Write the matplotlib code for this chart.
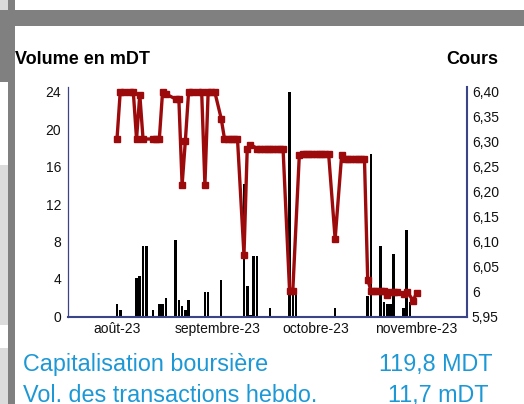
import matplotlib
matplotlib.use('Agg')
import matplotlib.pyplot as plt
import matplotlib.dates as mdates
from matplotlib.patches import Rectangle
from datetime import datetime

plt.rcParams['font.family'] = ['Liberation Sans', 'DejaVu Sans']

# daily volume (mDT)
vol_dates = ["2023-08-01", "2023-08-02", "2023-08-07", "2023-08-08", "2023-08-09", "2023-08-10",
             "2023-08-12", "2023-08-14", "2023-08-15", "2023-08-16", "2023-08-19", "2023-08-20",
             "2023-08-21", "2023-08-22", "2023-08-23", "2023-08-28", "2023-08-29", "2023-09-02",
             "2023-09-09", "2023-09-10", "2023-09-11", "2023-09-12", "2023-09-13", "2023-09-17",
             "2023-09-23", "2023-09-24", "2023-09-25", "2023-10-07", "2023-10-17", "2023-10-18",
             "2023-10-21", "2023-10-22", "2023-10-23", "2023-10-24", "2023-10-25", "2023-10-28",
             "2023-10-29", "2023-10-30"]
vol_values = [1.35, 0.7, 4.1, 4.35, 7.5, 7.5,
              0.7, 1.35, 1.35, 2.0, 8.2, 1.8,
              1.15, 0.7, 1.8, 2.65, 2.65, 3.9,
              14.1, 3.3, 0.2, 6.5, 6.5, 0.95,
              23.9, 2.5, 2.5, 0.95, 2.2, 17.3,
              7.5, 1.6, 1.3, 1.3, 6.7, 0.95,
              9.2, 1.6]

# closing price (cours)
price_dates = ["2023-08-01", "2023-08-02", "2023-08-03", "2023-08-05", "2023-08-06", "2023-08-07",
               "2023-08-08", "2023-08-09", "2023-08-12", "2023-08-13", "2023-08-14", "2023-08-15",
               "2023-08-16", "2023-08-19", "2023-08-20", "2023-08-21", "2023-08-22", "2023-08-23",
               "2023-08-24", "2023-08-26", "2023-08-27", "2023-08-28", "2023-08-29", "2023-08-30",
               "2023-08-31", "2023-09-02", "2023-09-03", "2023-09-04", "2023-09-05", "2023-09-06",
               "2023-09-07", "2023-09-09", "2023-09-10", "2023-09-11", "2023-09-13", "2023-09-14",
               "2023-09-15", "2023-09-16", "2023-09-17", "2023-09-18", "2023-09-19", "2023-09-20",
               "2023-09-21", "2023-09-23", "2023-09-24", "2023-09-26", "2023-09-27", "2023-09-28",
               "2023-09-29", "2023-09-30", "2023-10-01", "2023-10-02", "2023-10-03", "2023-10-04",
               "2023-10-05", "2023-10-07", "2023-10-09", "2023-10-10", "2023-10-11", "2023-10-12",
               "2023-10-13", "2023-10-14", "2023-10-15", "2023-10-16", "2023-10-17", "2023-10-18",
               "2023-10-19", "2023-10-20", "2023-10-21", "2023-10-22", "2023-10-23", "2023-10-24",
               "2023-10-25", "2023-10-26", "2023-10-28", "2023-10-29", "2023-10-31", "2023-11-01"]
price_values = [6.305, 6.40, 6.40, 6.40, 6.40, 6.305,
                6.394, 6.305, 6.305, 6.305, 6.305, 6.40,
                6.395, 6.385, 6.385, 6.213, 6.302, 6.40,
                6.40, 6.40, 6.40, 6.213, 6.40, 6.40,
                6.40, 6.346, 6.306, 6.306, 6.306, 6.306,
                6.306, 6.073, 6.286, 6.294, 6.286, 6.286,
                6.286, 6.286, 6.286, 6.286, 6.286, 6.286,
                6.286, 6.002, 6.002, 6.273, 6.275, 6.275,
                6.275, 6.275, 6.275, 6.275, 6.275, 6.275,
                6.275, 6.105, 6.273, 6.266, 6.266, 6.266,
                6.266, 6.266, 6.266, 6.266, 6.024, 6.002,
                6.002, 6.002, 6.002, 6.002, 5.994, 6.00,
                6.00, 6.00, 5.996, 6.00, 5.982, 5.997]

month_ticks = ["2023-08-01", "2023-09-01", "2023-10-01", "2023-11-01"]
month_labels = ["août-23", "septembre-23", "octobre-23", "novembre-23"]
vol_ticks = [0, 4, 8, 12, 16, 20, 24]
price_ticks = [5.95, 6.00, 6.05, 6.10, 6.15, 6.20, 6.25, 6.30, 6.35, 6.40]
price_labels = ["5,95", "6", "6,05", "6,10", "6,15", "6,20", "6,25", "6,30", "6,35", "6,40"]

capi_label, capi_value = "Capitalisation boursière", "119,8 MDT"
volh_label, volh_value = "Vol. des transactions hebdo.", "11,7 mDT"

W, H = 524, 404
NAVY = '#3a4488'
RED = '#9c0a0c'
BLUE = '#1c98d6'


def to_num(s):
    return mdates.date2num(datetime.strptime(s, "%Y-%m-%d"))


fig = plt.figure(figsize=(W / 100, H / 100), dpi=100)


def box(x0, y0, x1, y1, color):
    # rectangle given in pixels from the top-left corner
    fig.patches.append(Rectangle((x0 / W, 1 - y1 / H), (x1 - x0) / W, (y1 - y0) / H,
                                 transform=fig.transFigure, color=color, lw=0, zorder=0))


# page frame around the chart
box(0, 0, 8, 10, '#dadada')
box(0, 165, 8, 325, '#dcdcdc')
box(0, 348, 8, 404, '#dcdcdc')
box(0, 10, 524, 26, '#808080')
box(8, 0, 15, 404, '#808080')
box(0, 26, 15, 82, '#808080')

ax = fig.add_axes([68 / W, 1 - 316.5 / H, (467 - 68) / W, (316.5 - 87) / H])
ax2 = ax.twinx()

ax.bar([to_num(d) for d in vol_dates], vol_values, width=0.8, color='black', lw=0)
ax2.plot([to_num(d) for d in price_dates], price_values, color=RED, lw=2.4,
         marker='s', ms=4, mec=RED, mfc=RED)

start = to_num("2023-08-01")
ax.set_xlim(start - 15.05, start + 107.5)
ax.set_ylim(0, 24 * 229.5 / 225)
ax2.set_ylim(5.95, 5.95 + 0.45 * 229.5 / 225)

ax.set_xticks([to_num(d) for d in month_ticks])
ax.set_xticklabels(month_labels)
ax.set_yticks(vol_ticks)
ax2.set_yticks(price_ticks)
ax2.set_yticklabels(price_labels)
ax.tick_params(axis='x', length=0, pad=4, labelsize=10, colors='#111111')
ax.tick_params(axis='y', length=0, pad=5, labelsize=10, colors='#111111')
ax2.tick_params(axis='y', length=0, pad=3.5, labelsize=10, colors='#111111')

for a in (ax, ax2):
    for s in a.spines.values():
        s.set_visible(False)
ax.spines['left'].set_visible(True)
ax.spines['left'].set_color(NAVY)
ax.spines['left'].set_linewidth(0.9)
ax.spines['bottom'].set_visible(True)
ax.spines['bottom'].set_color(NAVY)
ax.spines['bottom'].set_linewidth(1.5)
ax2.spines['right'].set_visible(True)
ax2.spines['right'].set_color(NAVY)
ax2.spines['right'].set_linewidth(1.5)

fig.text(15 / W, 1 - 64.3 / H, "Volume en mDT", fontsize=13, fontweight='bold', va='baseline')
fig.text(498 / W, 1 - 64.3 / H, "Cours", fontsize=13, fontweight='bold', va='baseline', ha='right')
fig.text(23.3 / W, 1 - 371.5 / H, capi_label, fontsize=16.8, color=BLUE, va='baseline')
fig.text(492.7 / W, 1 - 370.5 / H, capi_value, fontsize=16.8, color=BLUE, va='baseline', ha='right')
# the reference crops this last line at the bottom edge as well
fig.text(23.3 / W, 1 - 402 / H, volh_label, fontsize=16.8, color=BLUE, va='baseline')
fig.text(488.7 / W, 1 - 402 / H, volh_value, fontsize=16.8, color=BLUE, va='baseline', ha='right')

fig.savefig('out.png', dpi=100)
